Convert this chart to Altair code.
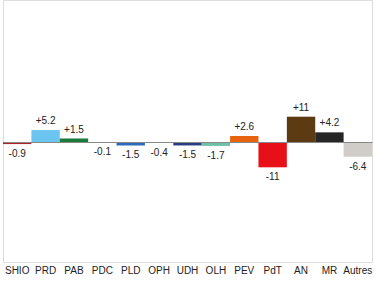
import altair as alt
import pandas as pd

parties = ["SHIO", "PRD", "PAB", "PDC", "PLD", "OPH", "UDH", "OLH", "PEV", "PdT", "AN", "MR", "Autres"]
values = [-0.9, 5.2, 1.5, -0.1, -1.5, -0.4, -1.5, -1.7, 2.6, -11, 11, 4.2, -6.4]
colors = ["#b0202a", "#6cc4f0", "#1a7a3a", "#f0a020", "#2a6cb8", "#8a6ab0",
          "#283c80", "#70c0a8", "#e8640c", "#e81018", "#5c3a12", "#262626", "#d0ccc8"]


def fmt(v):
    s = f"{abs(v):g}"
    return ("+" if v > 0 else "-") + s


df = pd.DataFrame({
    "party": parties,
    "value": values,
    "label": [fmt(v) for v in values],
})

font = "Liberation Sans"
x = alt.X("party:N", sort=parties,
          scale=alt.Scale(paddingInner=0, paddingOuter=0),
          axis=alt.Axis(title=None, domain=False, ticks=False, labelAngle=0,
                        labelPadding=3, labelFontSize=10, labelColor="#222",
                        labelFont=font))
yscale = alt.Scale(domain=[-52.17, 61.74], nice=False, zero=False)

bars = alt.Chart(df).mark_bar().encode(
    x=x,
    y=alt.Y("value:Q", scale=yscale,
            axis=alt.Axis(title=None, values=[0], grid=True, gridColor="#888",
                          gridWidth=1, labels=False, ticks=False, domain=False,
                          zindex=1)),
    y2=alt.datum(0),
    color=alt.Color("party:N", sort=parties,
                    scale=alt.Scale(domain=parties, range=colors), legend=None),
)

pos_labels = alt.Chart(df).transform_filter("datum.value > 0").mark_text(
    baseline="bottom", dy=-4, fontSize=10, font=font, color="#222"
).encode(x=alt.X("party:N", sort=parties), y=alt.Y("value:Q", scale=yscale), text="label:N")

neg_labels = alt.Chart(df).transform_filter("datum.value <= 0").mark_text(
    baseline="top", dy=5, fontSize=10, font=font, color="#222"
).encode(x=alt.X("party:N", sort=parties), y=alt.Y("value:Q", scale=yscale), text="label:N")

chart = alt.layer(bars, pos_labels, neg_labels).properties(
    width=369, height=262,
    padding={"left": 3, "right": 3, "top": 0, "bottom": 22},
    autosize=alt.AutoSizeParams(type="none"),
).configure_view(stroke=None).configure(background="white")

chart.save("out.html", embed_options={"renderer": "svg", "actions": False})
